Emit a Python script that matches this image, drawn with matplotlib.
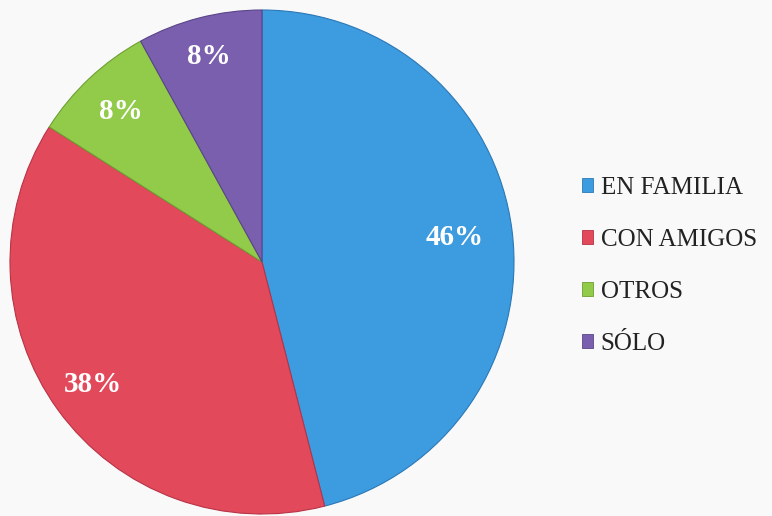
import matplotlib.pyplot as plt
import numpy as np
from matplotlib.patches import Patch

# datos del grafico
categorias = ['EN FAMILIA', 'CON AMIGOS', 'OTROS', 'SÓLO']
porcentajes = [46, 38, 8, 8]
colores = ['#3d9be0', '#e24a5c', '#92cb4a', '#7a5fae']
bordes = ['#2b78b5', '#b83346', '#6e9f33', '#5a4488']
dist_etiqueta = [0.77, 0.83, 0.82, 0.84]

plt.rcParams['font.family'] = ['Liberation Serif', 'DejaVu Serif']

fig = plt.figure(figsize=(7.72, 5.16), dpi=100)
fig.patch.set_facecolor('#f9f9f9')

ax = fig.add_axes([10 / 772, 2 / 516, 504 / 772, 504 / 516])
ax.set_facecolor('none')
wedges, _ = ax.pie(porcentajes, colors=colores, startangle=90, counterclock=False,
                   radius=1.0, wedgeprops=dict(linewidth=0.8))
for w, b in zip(wedges, bordes):
    w.set_edgecolor(b)

# etiquetas de porcentaje dentro de cada sector
for w, p, d in zip(wedges, porcentajes, dist_etiqueta):
    ang = np.deg2rad((w.theta1 + w.theta2) / 2)
    ax.text(d * np.cos(ang), d * np.sin(ang), f'{p}%', ha='center', va='center',
            color='white', fontsize=21, fontweight='bold')

ax.set_xlim(-1.0, 1.0)
ax.set_ylim(-1.0, 1.0)
ax.set_aspect('equal')
ax.axis('off')

manejadores = [Patch(facecolor=c, edgecolor=b, linewidth=0.6) for c, b in zip(colores, bordes)]
fig.legend(manejadores, categorias, loc='center left',
           bbox_to_anchor=(582 / 772, 1 - 266 / 516), frameon=False,
           fontsize=18, handlelength=0.45, handleheight=0.45, handletextpad=0.3,
           labelspacing=1.2, borderpad=0, borderaxespad=0, labelcolor='#222222')

plt.savefig('out.png', dpi=100, facecolor=fig.get_facecolor())
